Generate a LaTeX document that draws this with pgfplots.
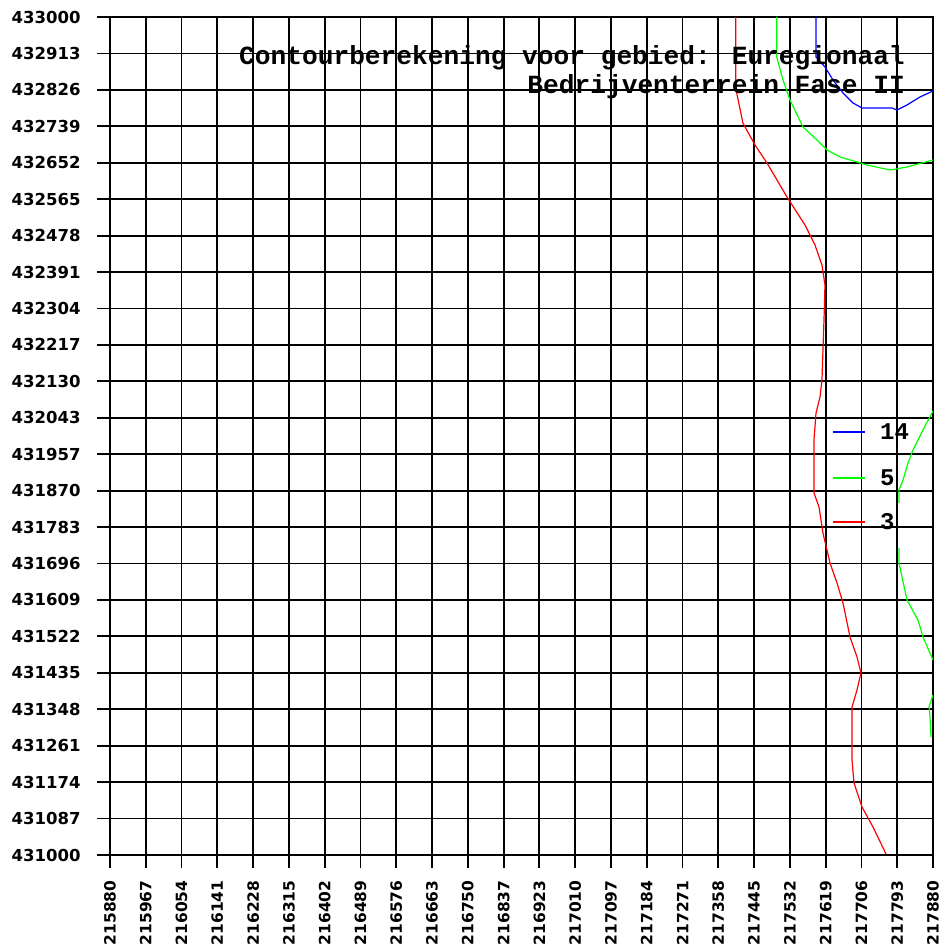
\documentclass[border=0pt]{standalone}
\usepackage{fontspec}
\usepackage{pgfplots}
\pgfplotsset{compat=1.18}
\setmainfont{Liberation Sans}
\newfontfamily\tickfont{DejaVu Sans}
\newfontfamily\monofont{Liberation Mono}
\begin{document}
\begin{tikzpicture}
\path[use as bounding box] (-110pt,-96pt) rectangle (834pt,855pt);
\begin{axis}[
  at={(0,0)}, anchor=south west,
  scale only axis, width=823pt, height=838pt,
  xmin=215880, xmax=217880, ymin=431000, ymax=433000,
  axis line style={black, line width=1.8pt},
  grid=major, major grid style={black, line width=1.8pt},
  tick align=outside, major tick length=13pt,
  tick style={black, line width=1.8pt},
  xtick pos=bottom, ytick pos=left,
  xtick={215880,215966.96,216053.91,216140.87,216227.83,216314.78,216401.74,216488.70,216575.65,216662.61,216749.57,216836.52,216923.48,217010.43,217097.39,217184.35,217271.30,217358.26,217445.22,217532.17,217619.13,217706.09,217793.04,217880},
  xticklabels={215880,215967,216054,216141,216228,216315,216402,216489,216576,216663,216750,216837,216923,217010,217097,217184,217271,217358,217445,217532,217619,217706,217793,217880},
  ytick={431000,431086.96,431173.91,431260.87,431347.83,431434.78,431521.74,431608.70,431695.65,431782.61,431869.57,431956.52,432043.48,432130.43,432217.39,432304.35,432391.30,432478.26,432565.22,432652.17,432739.13,432826.09,432913.04,433000},
  yticklabels={431000,431087,431174,431261,431348,431435,431522,431609,431696,431783,431870,431957,432043,432130,432217,432304,432391,432478,432565,432652,432739,432826,432913,433000},
  xticklabel style={rotate=90, anchor=east, xshift=-9pt, font=\tickfont\bfseries\fontsize{15.5}{18}\selectfont},
  yticklabel style={anchor=east, xshift=-13pt, font=\tickfont\bfseries\fontsize{16.5}{18}\selectfont},
  clip=true,
]
\addplot[blue, line width=1.2pt] coordinates {
(217595.7,433000) (217595.7,432904.5) (217617.5,432880.7) (217637.0,432849.6)
(217661.3,432818.6) (217685.6,432794.8) (217707.5,432782.8) (217780.4,432782.8)
(217792.5,432778.0) (217816.8,432790.0) (217848.4,432809.1) (217880,432823.4)};
\addplot[green, line width=1.2pt] coordinates {
(217500.2,433000) (217500.2,432904.5) (217515.5,432849.6) (217532.5,432801.9)
(217564.1,432737.5) (217598.1,432706.4) (217622.4,432682.6) (217654.0,432665.9)
(217695.3,432654.0) (217719.6,432646.8) (217775.5,432634.8) (217816.8,432642.0)
(217880,432658.7)};
\addplot[green, line width=1.2pt] coordinates {
(217880,432059.7) (217855.7,432014.3) (217831.4,431966.6) (217819.2,431935.6)
(217807.1,431895.0) (217797.4,431871.1) (217797.4,431840.1)};
\addplot[green, line width=1.2pt] coordinates {
(217797.4,431732.7) (217797.4,431696.9) (217816.8,431608.6) (217843.5,431560.9)
(217855.7,431520.3) (217880,431465.4)};
\addplot[green, line width=1.2pt] coordinates {
(217880,431381.9) (217870.3,431353.2) (217872.7,431329.4) (217875.1,431281.6)};
\addplot[red, line width=1.2pt] coordinates {
(217400.5,433000) (217400.5,432830.5) (217418.0,432747.0) (217447.4,432694.5)
(217476.6,432651.5) (217525.2,432570.4) (217568.9,432503.6) (217593.2,432455.8)
(217610.2,432408.1) (217617.5,432360.4) (217615.1,432276.8) (217612.6,432205.3)
(217610.2,432133.7) (217605.4,432093.1) (217595.7,432054.9) (217590.8,431990.5)
(217590.8,431864.0) (217603.0,431830.5) (217612.6,431768.5) (217622.4,431727.9)
(217629.7,431696.9) (217646.7,431649.2) (217661.3,431601.4) (217678.3,431520.3)
(217695.3,431472.6) (217705.0,431434.4) (217695.3,431393.8) (217683.2,431353.2)
(217683.2,431226.7) (217688.0,431171.8) (217707.5,431114.6) (217734.2,431066.8)
(217765.8,431002.4)};
% legend
\draw[blue, line width=1.2pt] (rel axis cs:0.8785,0.5048) -- (rel axis cs:0.9174,0.5048);
\draw[green, line width=1.2pt] (rel axis cs:0.8785,0.4499) -- (rel axis cs:0.9174,0.4499);
\draw[red, line width=1.2pt] (rel axis cs:0.8785,0.3974) -- (rel axis cs:0.9174,0.3974);
\node[anchor=west, inner sep=0pt, font=\monofont\bfseries\fontsize{24}{26}\selectfont] at (rel axis cs:0.9356,0.5048) {14};
\node[anchor=west, inner sep=0pt, font=\monofont\bfseries\fontsize{24}{26}\selectfont] at (rel axis cs:0.9356,0.4499) {5};
\node[anchor=west, inner sep=0pt, font=\monofont\bfseries\fontsize{24}{26}\selectfont] at (rel axis cs:0.9356,0.3974) {3};
\node[anchor=north east, align=right, inner sep=0pt, font=\monofont\bfseries\fontsize{26.2}{29}\selectfont]
  at (rel axis cs:0.966,0.966) {Contourberekening voor gebied: Euregionaal\\Bedrijventerrein Fase II};
\end{axis}
\end{tikzpicture}
\end{document}
